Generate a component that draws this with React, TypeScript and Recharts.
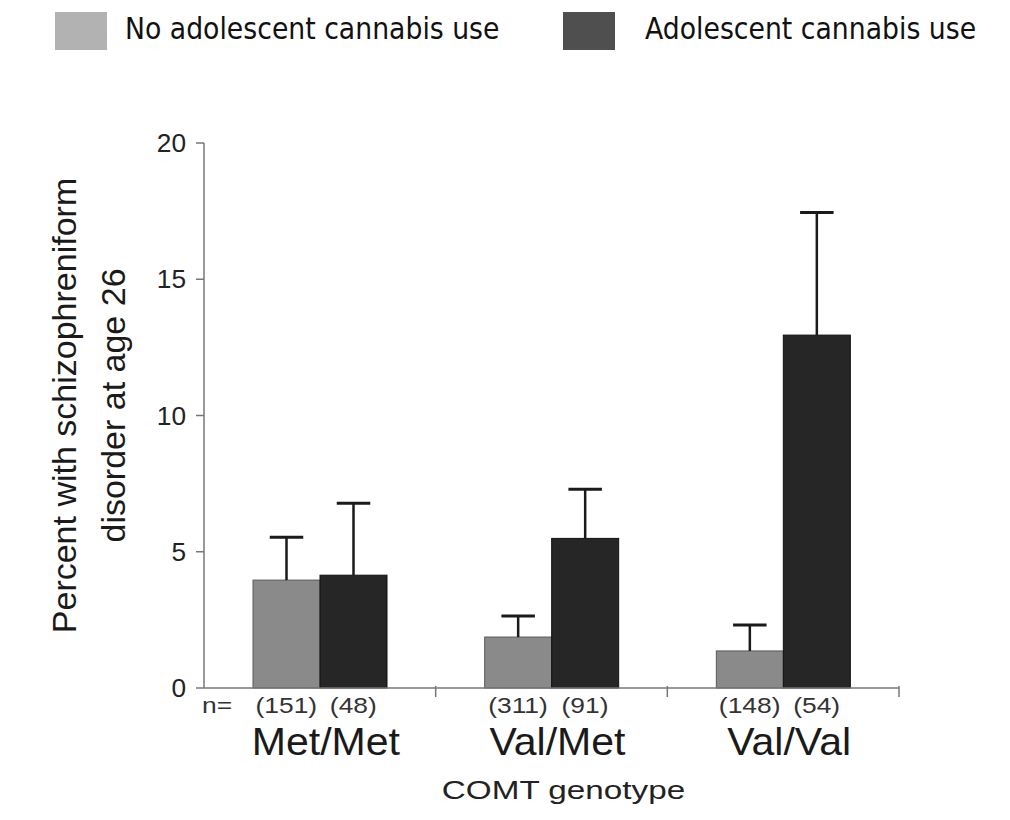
import { FC } from "react";
import { BarChart, Bar, XAxis, YAxis } from "recharts";

const genotypes = ["Met/Met", "Val/Met", "Val/Val"];
const seriesNames = ["No adolescent cannabis use", "Adolescent cannabis use"];
const noUse = [3.96, 1.87, 1.36];
const noUseErr = [1.57, 0.77, 0.95];
const use = [4.14, 5.49, 12.95];
const useErr = [2.64, 1.8, 4.5];
const nNoUse = ["(151)", "(311)", "(148)"];
const nUse = ["(48)", "(91)", "(54)"];
const yTicks = [0, 5, 10, 15, 20];

const LIGHT = "#8a8a8a";
const DARK = "#262626";
const LEGEND_COLORS = ["#b2b2b2", "#4f4f4f"];
const FONT = "'Liberation Sans', Arial, sans-serif";
const BAR = 67;

const data = genotypes.map((g, i) => ({
  genotype: g,
  noUse: noUse[i],
  noUseErr: noUseErr[i],
  use: use[i],
  useErr: useErr[i],
  nNoUse: nNoUse[i],
  nUse: nUse[i],
}));

// text that is a bit wider than the font, like the scanned figure
const Wide = ({ x, y, sx, anchor, size, fill, children }: any) => (
  <text
    x={0}
    y={0}
    transform={`translate(${x}, ${y}) scale(${sx}, 1)`}
    textAnchor={anchor}
    fontSize={size}
    fill={fill}
    fontFamily={FONT}
  >
    {children}
  </text>
);

// bar with a one-sided (upward) error whisker
const makeShape = (valueKey: string, errKey: string, stroke: string) => (props: any) => {
  const { x, y, width, height, fill, payload } = props;
  const v = payload[valueKey];
  const e = payload[errKey];
  const ppu = v ? height / v : 0;
  const top = y - e * ppu;
  const cx = x + width / 2;
  const cap = width / 4;
  return (
    <g>
      <rect x={x} y={y} width={width} height={height} fill={fill} stroke={stroke} strokeWidth={1} />
      <line x1={cx} x2={cx} y1={y} y2={top} stroke="#1a1a1a" strokeWidth={2.5} />
      <line x1={cx - cap} x2={cx + cap} y1={top} y2={top} stroke="#1a1a1a" strokeWidth={3} />
    </g>
  );
};

const GenotypeTick = (props: any) => {
  const { x, y, payload, index, width, visibleTicksCount } = props;
  const half = width / (visibleTicksCount || 3) / 2;
  const entry = data[index];
  return (
    <g>
      <line x1={x + half} x2={x + half} y1={y - 2} y2={y + 9} stroke="#777" strokeWidth={1.5} />
      {index === 0 && (
        <Wide x={x - half - 2} y={y + 25} sx={1.2} anchor="start" size={22} fill="#333">
          n=
        </Wide>
      )}
      <Wide x={x - BAR / 2} y={y + 25} sx={1.2} anchor="middle" size={22} fill="#333">
        {entry.nNoUse}
      </Wide>
      <Wide x={x + BAR / 2} y={y + 25} sx={1.2} anchor="middle" size={22} fill="#333">
        {entry.nUse}
      </Wide>
      <Wide x={x + 6} y={y + 67} sx={1.08} anchor="middle" size={38} fill="#1a1a1a">
        {payload.value}
      </Wide>
    </g>
  );
};

const ValueTick = (props: any) => {
  const { x, y, payload } = props;
  return (
    <Wide x={x} y={y + 9} sx={1.05} anchor="end" size={25} fill="#222">
      {payload.value}
    </Wide>
  );
};

const YLabel = (props: any) => {
  const { viewBox } = props;
  const cy = viewBox.y + viewBox.height / 2 - 10;
  return (
    <g fontFamily={FONT} fontSize={34} fill="#1a1a1a">
      <text x={0} y={0} textAnchor="middle" transform={`translate(${viewBox.x + 76}, ${cy}) rotate(-90)`}>
        Percent with schizophreniform
      </text>
      <text x={0} y={0} textAnchor="middle" transform={`translate(${viewBox.x + 125}, ${cy}) rotate(-90)`}>
        disorder at age 26
      </text>
    </g>
  );
};

const XLabel = (props: any) => {
  const { viewBox } = props;
  return (
    <Wide x={viewBox.x + viewBox.width / 2 + 12} y={799} sx={1.33} anchor="middle" size={25} fill="#222">
      COMT genotype
    </Wide>
  );
};

const LegendRow: FC = () => (
  <div style={{ position: "absolute", left: 0, top: 0, width: 1010, height: 60 }}>
    {seriesNames.map((name, i) => (
      <div key={name}>
        <div
          style={{
            position: "absolute",
            left: i === 0 ? 55 : 563,
            top: 12,
            width: 52,
            height: 38,
            background: LEGEND_COLORS[i],
          }}
        />
        <span
          style={{
            position: "absolute",
            left: i === 0 ? 125 : 645,
            top: 9,
            fontFamily: "'DejaVu Sans', Verdana, sans-serif",
            fontSize: 30,
            lineHeight: "40px",
            color: "#111",
            whiteSpace: "nowrap",
            transform: "scaleX(0.89)",
            transformOrigin: "left center",
          }}
        >
          {name}
        </span>
      </div>
    ))}
  </div>
);

const App: FC = () => {
  return (
    <div style={{ position: "absolute", left: 0, top: 0, width: 1010, height: 820, background: "#fff" }}>
      <LegendRow />
      <BarChart
        width={1010}
        height={820}
        data={data}
        margin={{ top: 143, right: 111, bottom: 0, left: 0 }}
        barSize={BAR}
        barGap={0}
      >
        <XAxis
          dataKey="genotype"
          height={132}
          tickSize={0}
          tickMargin={0}
          tickLine={false}
          stroke="#777"
          strokeWidth={1.5}
          tick={<GenotypeTick />}
          interval={0}
          label={<XLabel />}
        />
        <YAxis
          width={204}
          domain={[0, 20]}
          ticks={yTicks}
          tickSize={8}
          tickMargin={10}
          stroke="#777"
          strokeWidth={1.5}
          tick={<ValueTick />}
          label={<YLabel />}
        />
        <Bar
          dataKey="noUse"
          fill={LIGHT}
          isAnimationActive={false}
          shape={makeShape("noUse", "noUseErr", "#5a5a5a")}
        />
        <Bar
          dataKey="use"
          fill={DARK}
          isAnimationActive={false}
          shape={makeShape("use", "useErr", "#111")}
        />
      </BarChart>
    </div>
  );
};

export default App;
